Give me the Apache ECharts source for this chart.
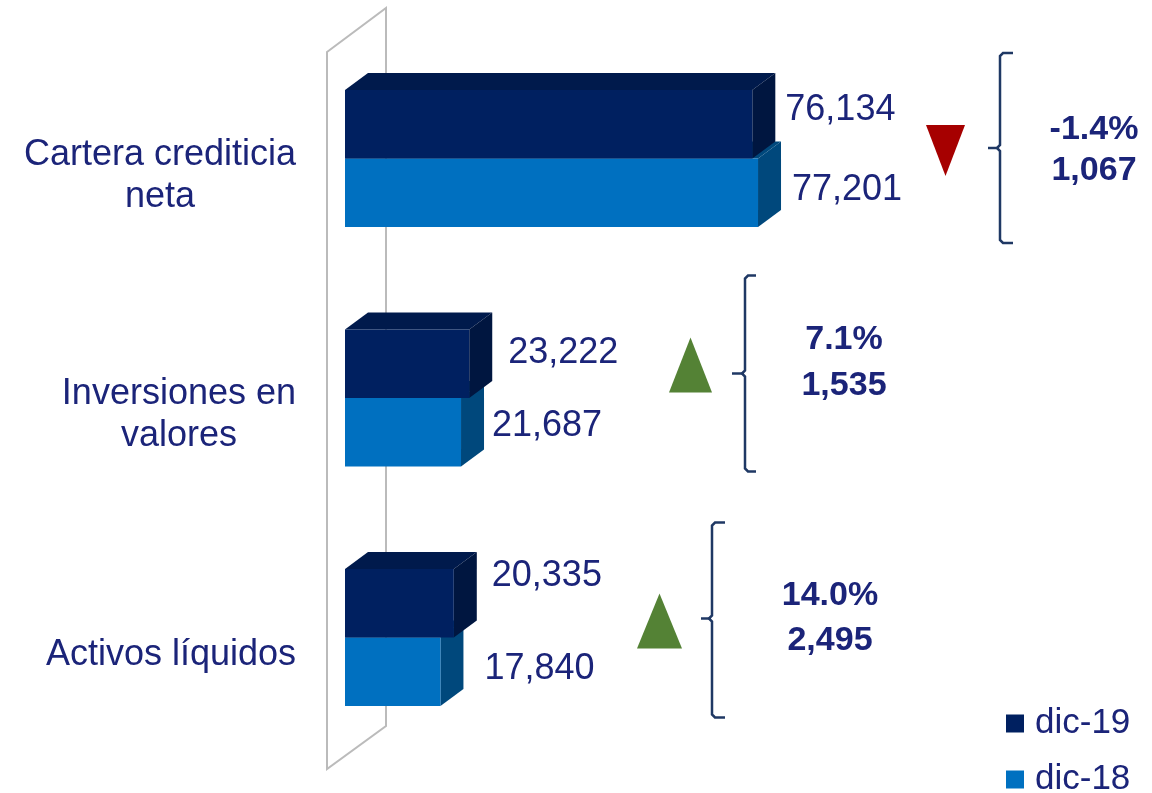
<!DOCTYPE html>
<html><head><meta charset="utf-8">
<script src="https://cdn.jsdelivr.net/npm/echarts@6/dist/echarts.min.js"></script>
<style>html,body{margin:0;padding:0;background:#fff}#c{width:1152px;height:793px}</style>
</head><body><div id="c"></div>
<script>
// ---- data ----
const categories = ['Cartera crediticia\nneta', 'Inversiones en\nvalores', 'Activos líquidos'];
const seriesNames = ['dic-19', 'dic-18'];
const dic19 = [76134, 23222, 20335];
const dic18 = [77201, 21687, 17840];
const pctChange = [-1.4, 7.1, 14.0];
const absChange = [1067, 1535, 2495];

// ---- layout / style ----
const FONT = '"Liberation Sans", Arial, sans-serif';
const TXT = '#1B2479';
const XMAX = 100000;
const DEPTH = [23, 17];
const faces = {
  'dic-19': {front: '#002060', top: '#001A4C', side: '#001640'},
  'dic-18': {front: '#0070C0', top: '#00487C', side: '#00487C'}
};
// label offsets: [dx from bar end, dy from bar centre]
const labelShift = {
  'dic-19': [[33, -14], [39, -11], [38, -27.5]],
  'dic-18': [[34, -2.5], [31, -6.5], [44, -2.5]]
};
// annotation layout per category (pixels; y relative to category centre)
const annotLayout = [
  {tri: [945.5, -8, 39, 51], br: [1000, -105.5, 84.5, -10.5, 988, 1013], tx: [1094, -29, 12.5]},
  {tri: [690.5, -33, 43, 55], br: [745, -122.5, 73.5, -24.5, 732, 756], tx: [844, -58, -12]},
  {tri: [659.5, -16.5, 45, 55], br: [712, -115, 80, -19, 701, 725], tx: [830, -42, 3]}
];

function barRenderer(name) {
  const face = faces[name];
  return function (params, api) {
    const i = params.dataIndex;
    const val = api.value(0), cat = api.value(1);
    const p0 = api.coord([0, cat]);
    const p1 = api.coord([val, cat]);
    const band = api.size([0, 1])[1];
    const h = band * 0.286;
    const yTop = name === 'dic-19' ? p0[1] - h : p0[1];
    const x0 = p0[0], x1 = p1[0];
    const dx = DEPTH[0], dy = DEPTH[1];
    const sh = labelShift[name][i];
    return {
      type: 'group',
      children: [
        {type: 'polygon', shape: {points: [[x0, yTop], [x0 + dx, yTop - dy], [x1 + dx, yTop - dy], [x1, yTop]]}, style: {fill: face.top}},
        {type: 'polygon', shape: {points: [[x1, yTop], [x1 + dx, yTop - dy], [x1 + dx, yTop + h - dy], [x1, yTop + h]]}, style: {fill: face.side}},
        {type: 'rect', shape: {x: x0, y: yTop, width: x1 - x0, height: h}, style: {fill: face.front}},
        {type: 'text', style: {text: val.toLocaleString('en-US'), x: x1 + sh[0], y: yTop + h / 2 + sh[1],
          fill: TXT, fontSize: 36, fontFamily: FONT, align: 'left', verticalAlign: 'middle'}}
      ]
    };
  };
}

function annotRender(params, api) {
  const i = params.dataIndex;
  const yc = api.coord([0, api.value(1)])[1];
  const L = annotLayout[i];
  const up = pctChange[i] >= 0;
  const tx = L.tri[0], cy = yc + L.tri[1], tw = L.tri[2], th = L.tri[3];
  const tri = up
    ? [[tx - tw / 2, cy + th / 2], [tx, cy - th / 2], [tx + tw / 2, cy + th / 2]]
    : [[tx - tw / 2, cy - th / 2], [tx + tw / 2, cy - th / 2], [tx, cy + th / 2]];
  const bx = L.br[0], bTop = yc + L.br[1], bBot = yc + L.br[2], bTick = yc + L.br[3], tickL = L.br[4], serR = L.br[5];
  const lineStyle = {stroke: '#1F3864', lineWidth: 2.5, fill: null};
  return {
    type: 'group',
    children: [
      {type: 'polygon', shape: {points: tri}, style: {fill: up ? '#548235' : '#A60000'}},
      {type: 'polyline', shape: {points: [[serR, bTop], [bx + 3, bTop], [bx, bTop + 3], [bx, bTick - 3], [bx - 3, bTick], [bx, bTick + 3], [bx, bBot - 3], [bx + 3, bBot], [serR, bBot]]}, style: lineStyle},
      {type: 'line', shape: {x1: tickL, y1: bTick, x2: bx - 3, y2: bTick}, style: lineStyle},
      {type: 'text', style: {text: pctChange[i].toFixed(1) + '%', x: L.tx[0], y: yc + L.tx[1], fill: TXT,
        fontSize: 34, fontWeight: 'bold', fontFamily: FONT, align: 'center', verticalAlign: 'middle'}},
      {type: 'text', style: {text: absChange[i].toLocaleString('en-US'), x: L.tx[0], y: yc + L.tx[2], fill: TXT,
        fontSize: 34, fontWeight: 'bold', fontFamily: FONT, align: 'center', verticalAlign: 'middle'}}
    ]
  };
}

const legendBase = {
  orient: 'vertical', left: 1006, padding: 0,
  itemWidth: 18, itemHeight: 18, icon: 'rect', selectedMode: false,
  textStyle: {fontSize: 35, fontFamily: FONT, color: TXT, padding: [0, 0, 0, 6]}
};

const chart = echarts.init(document.getElementById('c'), null, {renderer: 'canvas'});
chart.setOption({
  backgroundColor: '#ffffff',
  animation: false,
  grid: {left: 345, top: 38.75, width: 535, height: 718.5},
  xAxis: {type: 'value', min: 0, max: XMAX, show: false},
  yAxis: {
    type: 'category', data: categories, inverse: true,
    axisLine: {show: false}, axisTick: {show: false}, splitLine: {show: false},
    axisLabel: {
      margin: 49, padding: [35, 0, 0, 0],
      formatter: v => v.split('\n').map(s => '{a|' + s + '}').join('\n'),
      rich: {a: {fontSize: 36, fontFamily: FONT, color: TXT, lineHeight: 42, align: 'center'}}
    }
  },
  legend: [
    Object.assign({}, legendBase, {data: [seriesNames[0]], top: 706}),
    Object.assign({}, legendBase, {data: [seriesNames[1]], top: 762})
  ],
  graphic: [{
    type: 'polygon', z: -10, silent: true,
    shape: {points: [[327, 52], [386, 8], [386, 726], [327, 769]]},
    style: {fill: null, stroke: '#BBBBBB', lineWidth: 2}
  }],
  series: [
    {type: 'custom', name: 'dic-18', itemStyle: {color: faces['dic-18'].front}, renderItem: barRenderer('dic-18'),
      encode: {x: 0, y: 1}, data: dic18.map((v, i) => [v, i]), z: 2},
    {type: 'custom', name: 'dic-19', itemStyle: {color: faces['dic-19'].front}, renderItem: barRenderer('dic-19'),
      encode: {x: 0, y: 1}, data: dic19.map((v, i) => [v, i]), z: 2},
    {type: 'custom', name: 'annot', silent: true, renderItem: annotRender,
      encode: {x: 0, y: 1}, data: categories.map((c, i) => [0, i]), z: 3}
  ]
});
</script>
</body></html>
